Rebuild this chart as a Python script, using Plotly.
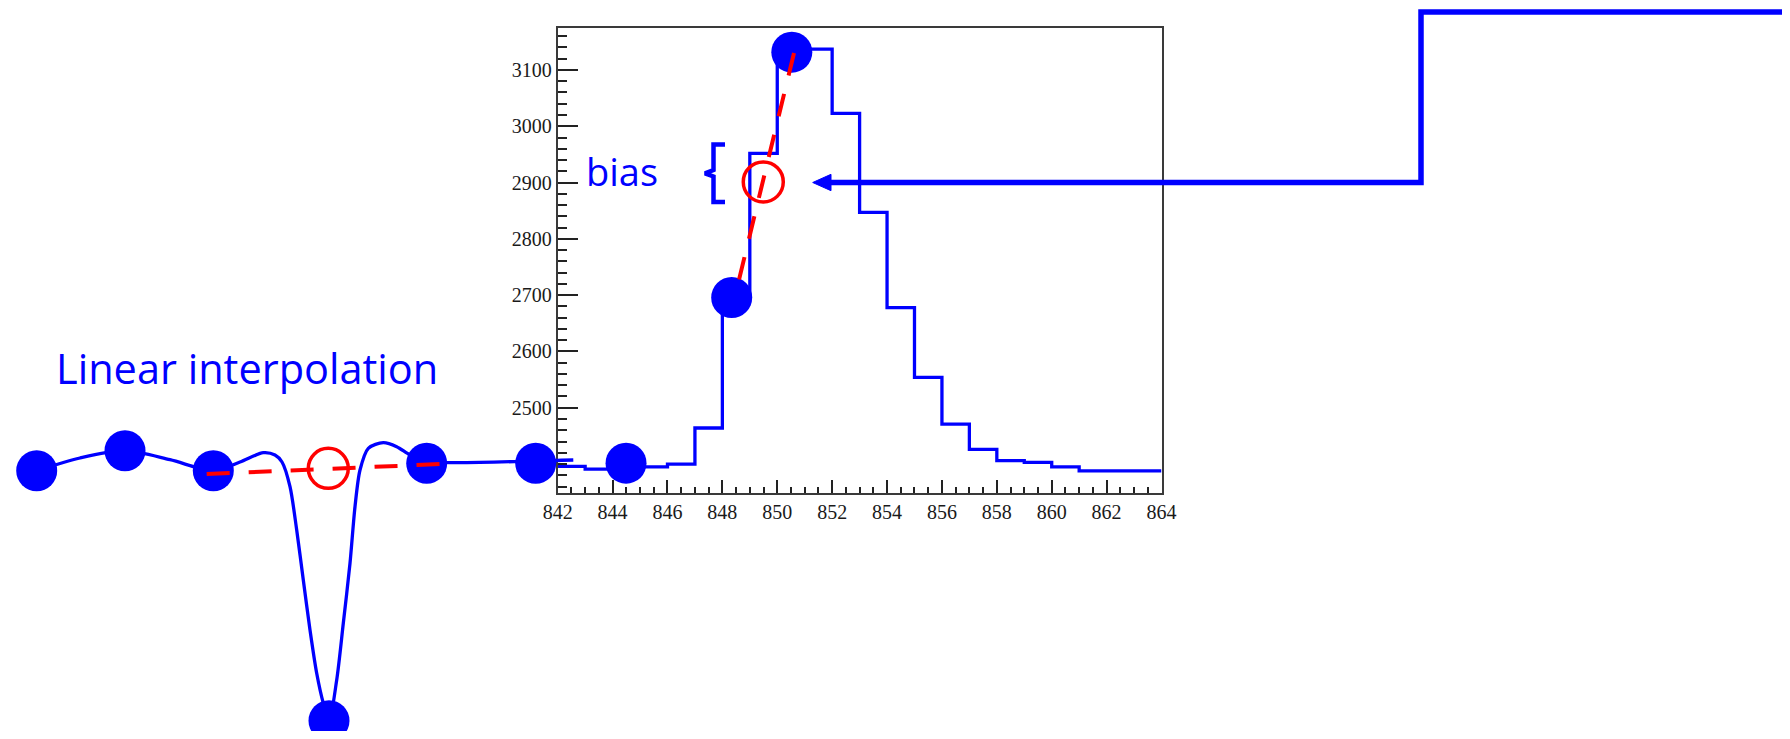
import plotly.graph_objects as go

# ---------------- data ----------------
# histogram (1-unit bins from 842 to 864)
bin_edges = [842, 843, 844, 845, 846, 847, 848, 849, 850, 851, 852, 853,
             854, 855, 856, 857, 858, 859, 860, 861, 862, 863, 864]
counts = [2396, 2391, 2392, 2395, 2400, 2464, 2705, 2952, 3137, 3137, 3023,
          2847, 2678, 2554, 2471, 2426, 2406, 2403, 2395, 2388, 2388, 2388]

# sampled points drawn on the histogram
hist_dot_x = [844.49, 848.34, 850.53]
hist_dot_y = [2401.6, 2695.7, 3131.6]
# linear interpolation between the two points around the peak
interp_x = [850.61, 848.45]
interp_y = [3130.0, 2696.0]
interp_point_x = [849.49]
interp_point_y = [2901.0]

x_tick_vals = [842, 844, 846, 848, 850, 852, 854, 856, 858, 860, 862, 864]
y_tick_vals = [2500, 2600, 2700, 2800, 2900, 3000, 3100]

# schematic (left) drawn on a canvas axis (page pixel units, y downward)
curve_x = [36.7, 80, 125, 170, 213.3, 240, 263.3, 275, 282, 290, 296.7, 303.3,
           310, 316.7, 323.3, 329, 336.7, 343.3, 350, 355, 360, 368.3, 383.3,
           396.7, 410, 426.7, 535.7, 573.3]
curve_y = [470.7, 458, 450.7, 459.7, 470.7, 462, 452.7, 455, 462, 486.7, 530,
           580, 630, 673.3, 703.3, 720.7, 680, 623.3, 563.3, 506.7, 470, 448.3,
           442.7, 446.7, 455, 461.5, 461, 460]
sample_x = [36.7, 125, 213.3, 329, 426.7, 535.7]
sample_y = [470.7, 450.7, 470.7, 720.7, 463.3, 463.3]
lin_x = [206.7, 441.7]
lin_y = [474, 464]
lin_point_x = [328.3]
lin_point_y = [468.3]

# arrow / step connector
arrow_x = [829, 1421, 1421, 1790]
arrow_y = [182.5, 182.5, 12, 12]
arrow_head_x = [812.7, 831, 831, 812.7]
arrow_head_y = [182.5, 174.3, 190.7, 182.5]

# brace next to "bias"
brace_x = [725, 713.5, 713.5, 705, 713.5, 713.5, 725]
brace_y = [144.5, 144.5, 170, 173.3, 176.5, 202, 202]

BLUE = "#0000ff"
RED = "#ff0000"
PAGE_W, PAGE_H = 1790, 739
OFF = 8                      # browser body margin around the figure div
W, H = PAGE_W - 2 * OFF, PAGE_H - 2 * OFF
# histogram frame in page pixels
FX0, FX1, FY0, FY1 = 557.7, 1161.5, 28.3, 493.3

fig = go.Figure()

# --- histogram subplot (x, y) ---
hx = bin_edges
hy = counts + [counts[-1]]
fig.add_trace(go.Scatter(x=hx, y=hy, mode="lines", line=dict(color=BLUE, width=3.3, shape="hv"),
                         xaxis="x", yaxis="y", showlegend=False, hoverinfo="skip"))
fig.add_trace(go.Scatter(x=hist_dot_x, y=hist_dot_y, mode="markers",
                         marker=dict(size=41, color=BLUE, line=dict(width=0)),
                         cliponaxis=False, xaxis="x", yaxis="y", showlegend=False))
fig.add_trace(go.Scatter(x=interp_x, y=interp_y, mode="lines",
                         line=dict(color=RED, width=4, dash="23px,19px"),
                         xaxis="x", yaxis="y", showlegend=False))
fig.add_trace(go.Scatter(x=interp_point_x, y=interp_point_y, mode="markers",
                         marker=dict(size=40, symbol="circle-open", color=RED, line=dict(width=3.5)),
                         cliponaxis=False, xaxis="x", yaxis="y", showlegend=False))

# --- canvas overlay subplot (x2, y2) ---
fig.add_trace(go.Scatter(x=curve_x, y=curve_y, mode="lines",
                         line=dict(color=BLUE, width=3.3, shape="spline", smoothing=0.8),
                         xaxis="x2", yaxis="y2", showlegend=False))
fig.add_trace(go.Scatter(x=sample_x, y=sample_y, mode="markers",
                         marker=dict(size=41, color=BLUE, line=dict(width=0)),
                         cliponaxis=False, xaxis="x2", yaxis="y2", showlegend=False))
fig.add_trace(go.Scatter(x=lin_x, y=lin_y, mode="lines",
                         line=dict(color=RED, width=4, dash="23px,19px"),
                         xaxis="x2", yaxis="y2", showlegend=False))
fig.add_trace(go.Scatter(x=lin_point_x, y=lin_point_y, mode="markers",
                         marker=dict(size=40, symbol="circle-open", color=RED, line=dict(width=3.5)),
                         xaxis="x2", yaxis="y2", showlegend=False))
fig.add_trace(go.Scatter(x=arrow_x, y=arrow_y, mode="lines",
                         line=dict(color=BLUE, width=5.5),
                         xaxis="x2", yaxis="y2", showlegend=False))
fig.add_trace(go.Scatter(x=arrow_head_x, y=arrow_head_y, mode="lines", fill="toself",
                         fillcolor=BLUE, line=dict(color=BLUE, width=1),
                         xaxis="x2", yaxis="y2", showlegend=False))
fig.add_trace(go.Scatter(x=brace_x, y=brace_y, mode="lines",
                         line=dict(color=BLUE, width=4.5),
                         xaxis="x2", yaxis="y2", showlegend=False))

tick_font = dict(family="Liberation Serif", size=20, color="#1a1a1a")

fig.update_layout(
    width=W, height=H,
    autosize=False,
    margin=dict(l=0, r=0, t=0, b=0, pad=0, autoexpand=False),
    paper_bgcolor="white",
    plot_bgcolor="rgba(0,0,0,0)",
    xaxis=dict(
        domain=[(FX0 - OFF) / W, (FX1 - OFF) / W], range=[842, 864], anchor="y",
        automargin=False,
        tickmode="array", tickvals=x_tick_vals, tickformat="d",
        ticks="inside", ticklen=13, tickwidth=2, tickcolor="#222222",
        minor=dict(ticks="inside", dtick=0.5, ticklen=6, tickwidth=2, tickcolor="#222222", showgrid=False),
        showline=True, linecolor="#3a3a3a", linewidth=2, mirror=True,
        showgrid=False, zeroline=False, tickfont=tick_font,
    ),
    yaxis=dict(
        domain=[1 - (FY1 - OFF) / H, 1 - (FY0 - OFF) / H], range=[2348, 3174], anchor="x",
        automargin=False,
        tickmode="array", tickvals=y_tick_vals, tickformat="d",
        ticks="inside", ticklen=20, tickwidth=2, tickcolor="#222222",
        minor=dict(ticks="inside", dtick=20, ticklen=9, tickwidth=2, tickcolor="#222222", showgrid=False),
        showline=True, linecolor="#3a3a3a", linewidth=2, mirror=True,
        showgrid=False, zeroline=False, tickfont=tick_font,
    ),
    xaxis2=dict(domain=[0, 1], range=[OFF, OFF + W], anchor="y2", visible=False,
                fixedrange=True, automargin=False),
    yaxis2=dict(domain=[0, 1], range=[OFF + H, OFF], anchor="x2", visible=False,
                fixedrange=True, automargin=False),
    annotations=[
        dict(text="Linear interpolation", x=247, y=368, xref="x2", yref="y2",
             showarrow=False, xanchor="center", yanchor="middle",
             font=dict(family="Open Sans", size=41.5, color=BLUE)),
        dict(text="bias", x=621.7, y=171, xref="x2", yref="y2",
             showarrow=False, xanchor="center", yanchor="middle",
             font=dict(family="Open Sans", size=38, color=BLUE)),
    ],
)

fig.write_html("out.html")
